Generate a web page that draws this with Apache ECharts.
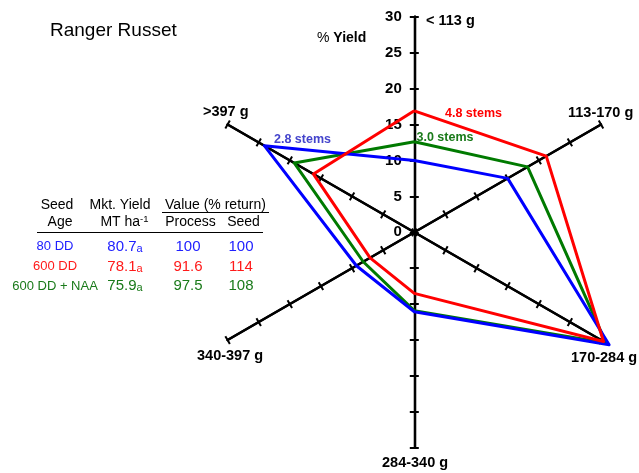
<!DOCTYPE html>
<html>
<head>
<meta charset="utf-8">
<script src="https://cdn.jsdelivr.net/npm/echarts@6/dist/echarts.min.js"></script>
<style>html,body{margin:0;padding:0;background:#fff}#c{width:639px;height:473px}</style>
</head>
<body>
<div id="c"></div>
<script>
// Radar axes, counter-clockwise from top
const categories = ['< 113 g', '>397 g', '340-397 g', '284-340 g', '170-284 g', '113-170 g'];
const axisMax = 30;
const tickStep = 5;
// % Yield per size class (same order as categories)
const dd80 = [10.0, 24.1, 9.3, 11.05, 31.3, 15.0];
const dd600 = [16.9, 16.2, 7.1, 8.5, 30.4, 21.2];
const dd600naa = [12.6, 19.3, 8.2, 10.9, 30.8, 18.2];
const seriesNames = ['80 DD', '600 DD', '600 DD + NAA'];
const stems = ['2.8 stems', '4.8 stems', '3.0 stems'];
const mktYield = ['80.7', '78.1', '75.9'];
const yieldLetter = ['a', 'a', 'a'];
const processReturn = ['100', '91.6', '97.5'];
const seedReturn = ['100', '114', '108'];

const FF = 'Liberation Sans, Arial, Helvetica, sans-serif';
const BLUE = '#0000ff', RED = '#ff0000', GREEN = '#007a00';
const TBLUE = '#2020ff', TRED = '#ff1a1a', TGREEN = '#1a7a1a';

const chart = echarts.init(document.getElementById('c'), null, {renderer: 'canvas'});

function makeRadar(tickLen, withLabels) {
  return {
    center: [414.3, 232.3],
    radius: 215.6,
    startAngle: 90,
    splitNumber: axisMax / tickStep,
    shape: 'polygon',
    axisName: {show: false},
    splitLine: {show: false},
    splitArea: {show: false},
    axisLine: {show: true, lineStyle: {color: '#000', width: 2.3}},
    axisTick: {show: true, length: tickLen, lineStyle: {color: '#000', width: 2}},
    axisLabel: {show: false},
    indicator: categories.map((c, i) => {
      const o = {name: c, min: 0, max: axisMax};
      if (i === 0 && withLabels) {
        o.axisLabel = {show: true, color: '#000', fontSize: 15, fontWeight: 'bold', fontFamily: FF, margin: 12.5,
          showMinLabel: true, showMaxLabel: true};
      }
      return o;
    })
  };
}

const tableX = {age: 55, mkt: 125, proc: 188, seed: 241};
const rowY = [246.7, 266.5, 286];
const rowColors = [TBLUE, TRED, TGREEN];

const graphics = [];
function txt(x, y, text, opt) {
  graphics.push({type: 'text', x: x, y: y, silent: true, z: 10, style: Object.assign({
    text: text, fontFamily: FF, fontSize: 14, fill: '#000', align: 'center', verticalAlign: 'middle'
  }, opt || {})});
}
// title and axis titles
txt(50, 31, 'Ranger Russet', {fontSize: 19, align: 'left'});
txt(317, 38, '{a|% }{b|Yield}', {align: 'left', rich: {a: {fontSize: 14, fontFamily: FF, fill: '#000'}, b: {fontSize: 14, fontWeight: 'bold', fontFamily: FF, fill: '#000'}}});
const namePos = [[426, 21], [203, 111.5], [197, 356], [382, 463], [571, 357.5], [568, 113]];
categories.forEach((c, i) => txt(namePos[i][0], namePos[i][1], c, {fontWeight: 'bold', fontSize: 14.5, align: 'left'}));
// stems annotations
txt(274, 139.3, stems[0], {fontWeight: 'bold', fontSize: 12.5, fill: '#4444cc', align: 'left'});
txt(445, 113.7, stems[1], {fontWeight: 'bold', fontSize: 12.5, fill: RED, align: 'left'});
txt(416.5, 137.3, stems[2], {fontWeight: 'bold', fontSize: 12.5, fill: TGREEN, align: 'left'});
// table header
txt(57, 205, 'Seed');
txt(60, 222, 'Age');
txt(120, 205, 'Mkt. Yield');
txt(124.5, 222, '{n|MT ha}{s|-1}', {rich: {n: {fontSize: 14, fontFamily: FF, fill: '#000'}, s: {fontSize: 9.5, fontFamily: FF, fill: '#000', verticalAlign: 'top', padding: [0, 0, 5, 0]}}});
txt(215.5, 205, 'Value (% return)');
txt(190.5, 222, 'Process');
txt(243.5, 222, 'Seed');
graphics.push({type: 'line', silent: true, shape: {x1: 162, y1: 212.5, x2: 269, y2: 212.5}, style: {stroke: '#000', lineWidth: 1.2}});
graphics.push({type: 'line', silent: true, shape: {x1: 37, y1: 232.5, x2: 263, y2: 232.5}, style: {stroke: '#000', lineWidth: 1.2}});
// table rows
seriesNames.forEach((n, i) => {
  const col = rowColors[i];
  txt(tableX.age, rowY[i], n, {fontSize: 13, fill: col});
  txt(tableX.mkt, rowY[i], '{v|' + mktYield[i] + '}{s|' + yieldLetter[i] + '}', {fill: col,
    rich: {v: {fontSize: 15, fontFamily: FF, fill: col}, s: {fontSize: 11, fontFamily: FF, fill: col, verticalAlign: 'bottom', padding: [2, 0, 0, 0]}}});
  txt(tableX.proc, rowY[i], processReturn[i], {fontSize: 15, fill: col});
  txt(tableX.seed, rowY[i], seedReturn[i], {fontSize: 15, fill: col});
});

const lineSeries = (name, data, color, z) => ({
  type: 'radar', radarIndex: 0, name: name, symbol: 'none', z: z, silent: true,
  lineStyle: {color: color, width: 3},
  data: [{value: data, name: name}]
});

chart.setOption({
  animation: false,
  backgroundColor: '#fff',
  // second, identical radar with negative tick length puts ticks on the other side of each axis
  radar: [makeRadar(4.5, true), makeRadar(-4.5, false)],
  series: [
    lineSeries(seriesNames[2], dd600naa, GREEN, 2),
    lineSeries(seriesNames[0], dd80, BLUE, 3),
    lineSeries(seriesNames[1], dd600, RED, 4)
  ],
  graphic: graphics
});
</script>
</body>
</html>
